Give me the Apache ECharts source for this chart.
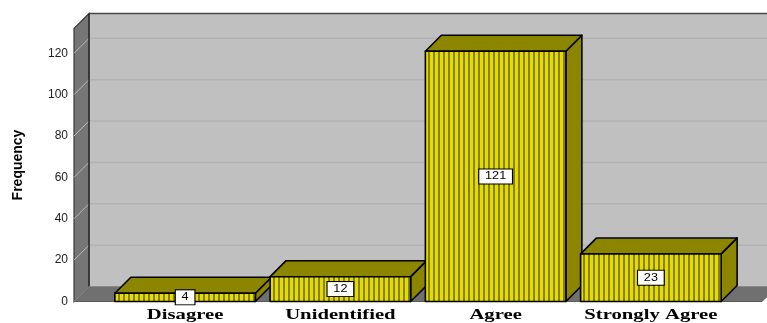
<!DOCTYPE html>
<html>
<head>
<meta charset="utf-8">
<script src="https://cdn.jsdelivr.net/npm/echarts@6/dist/echarts.min.js"></script>
<style>
  html, body { margin: 0; padding: 0; background: #ffffff; }
  #chart { width: 767px; height: 323px; }
</style>
</head>
<body>
<div id="chart"></div>
<script>
// Response categories and their frequencies
const categories = ['Disagree', 'Unidentified', 'Agree', 'Strongly Agree'];
const frequencies = [4, 12, 121, 23];
// Value-axis ticks and the top of the plotted range
const yTicks = [0, 20, 40, 60, 80, 100, 120];
const yMax = 132;

// 3D look: depth of the walls and of the bars, in pixels
const WALL_DEPTH = 15;
const BAR_DEPTH = 16;
const WALL_MARGIN = 33.5;

// Vertical-stripe fill for the bar fronts
function stripePattern() {
  const c = document.createElement('canvas');
  c.width = 5; c.height = 4;
  const ctx = c.getContext('2d');
  ctx.fillStyle = '#E4DC00';
  ctx.fillRect(0, 0, 5, 4);
  ctx.fillStyle = '#8A8100';
  ctx.fillRect(3, 0, 2, 4);
  return { image: c, repeat: 'repeat' };
}
const stripes = stripePattern();

const chart = echarts.init(document.getElementById('chart'), null, { renderer: 'canvas' });

function renderWalls(params, api) {
  const cs = params.coordSys;
  const d = WALL_DEPTH;
  const y0 = api.coord([0, 0])[1];
  const yT = api.coord([0, yMax])[1];
  const xF = cs.x - WALL_MARGIN;
  const xB = xF + d;
  const xR = cs.x + cs.width + WALL_MARGIN;
  const children = [];
  // back wall
  children.push({ type: 'rect', shape: { x: xB, y: yT - d, width: xR + d + 20 - xB, height: y0 - yT },
    style: { fill: '#C0C0C0' } });
  // gridlines on back wall
  yTicks.forEach(function (t) {
    if (t === 0) return;
    const y = api.coord([0, t])[1];
    children.push({ type: 'line', shape: { x1: xB, y1: y - d, x2: xR + d + 20, y2: y - d },
      style: { stroke: '#B2B2B2', lineWidth: 1.5 } });
  });
  // floor
  children.push({ type: 'polygon', shape: { points: [[xF, y0], [xB, y0 - d], [xR + d, y0 - d], [xR, y0]] },
    style: { fill: '#707070', stroke: '#5a5a5a', lineWidth: 1 } });
  // left side wall with slanted tick lines
  children.push({ type: 'polygon', shape: { points: [[xF, y0], [xF, yT], [xB, yT - d], [xB, y0 - d]] },
    style: { fill: '#767676', stroke: '#3a3a3a', lineWidth: 1.2 } });
  yTicks.forEach(function (t) {
    const y = api.coord([0, t])[1];
    children.push({ type: 'line', shape: { x1: xF, y1: y, x2: xB, y2: y - d },
      style: { stroke: '#B8B8B8', lineWidth: 1 } });
  });
  // edges
  children.push({ type: 'line', shape: { x1: xB, y1: yT - d, x2: xR + d + 20, y2: yT - d },
    style: { stroke: '#4a4a4a', lineWidth: 1.6 } });
  children.push({ type: 'line', shape: { x1: xB, y1: yT - d, x2: xB, y2: y0 - d },
    style: { stroke: '#2a2a2a', lineWidth: 1.4 } });
  children.push({ type: 'line', shape: { x1: xB, y1: y0 - d, x2: xR + d + 20, y2: y0 - d },
    style: { stroke: '#8a8a8a', lineWidth: 1 } });
  return { type: 'group', children: children };
}

function renderBar(params, api) {
  const i = api.value(0);
  const v = api.value(1);
  const top = api.coord([i, v]);
  const y0 = api.coord([i, 0])[1];
  const w = api.size([1, 0])[0] * 0.905;
  const xl = top[0] - w / 2;
  const xr = top[0] + w / 2;
  const yt = top[1];
  const d = BAR_DEPTH;
  const edge = { stroke: '#000', lineWidth: 1.6, lineJoin: 'round' };
  return {
    type: 'group',
    children: [
      { type: 'polygon', shape: { points: [[xr, yt], [xr + d, yt - d], [xr + d, y0 - d], [xr, y0]] },
        style: Object.assign({ fill: '#8C8500' }, edge) },
      { type: 'polygon', shape: { points: [[xl, yt], [xl + d, yt - d], [xr + d, yt - d], [xr, yt]] },
        style: Object.assign({ fill: '#8C8500' }, edge) },
      { type: 'rect', shape: { x: xl, y: yt, width: w, height: y0 - yt },
        style: Object.assign({ fill: stripes }, edge) },
      { type: 'text', x: top[0], y: (yt + y0) / 2, scaleX: 1.15,
        style: { text: String(v), align: 'center', verticalAlign: 'middle',
          font: '11px "Liberation Sans", Arial, sans-serif', fill: '#000',
          backgroundColor: '#ffffff', borderColor: '#000', borderWidth: 1, padding: [2, 5, 1, 5] } },
      { type: 'text', x: top[0], y: y0 + 6, scaleX: 1.38,
        style: { text: categories[i], align: 'center', verticalAlign: 'top',
          font: 'bold 15px "Liberation Serif", "Times New Roman", serif', fill: '#000' } }
    ]
  };
}

chart.setOption({
  animation: false,
  backgroundColor: '#ffffff',
  grid: { left: 107.5, right: 38.5, top: 28.5, bottom: 21.5 },
  xAxis: {
    type: 'category', data: categories,
    axisLine: { show: false }, axisTick: { show: false }, axisLabel: { show: false }, splitLine: { show: false }
  },
  yAxis: {
    type: 'value', min: 0, max: yMax, interval: 20, offset: WALL_MARGIN,
    axisLine: { show: false }, axisTick: { show: false }, splitLine: { show: false },
    axisLabel: {
      margin: 6, fontSize: 12, color: '#222', fontFamily: '"Liberation Sans", Arial, sans-serif',
      formatter: function (val) { return yTicks.indexOf(val) >= 0 ? String(val) : ''; }
    },
    name: 'Frequency', nameLocation: 'middle', nameGap: 49, nameRotate: 90,
    nameTextStyle: { fontSize: 14, fontWeight: 'bold', color: '#000', fontFamily: '"Liberation Sans", Arial, sans-serif' }
  },
  series: [
    { type: 'custom', renderItem: renderWalls, data: [[0, 0]], clip: false, silent: true, z: 1 },
    { type: 'custom', renderItem: renderBar, encode: { x: 0, y: 1 }, clip: false, z: 2,
      data: frequencies.map(function (v, i) { return [i, v]; }) }
  ]
});
</script>
</body>
</html>
